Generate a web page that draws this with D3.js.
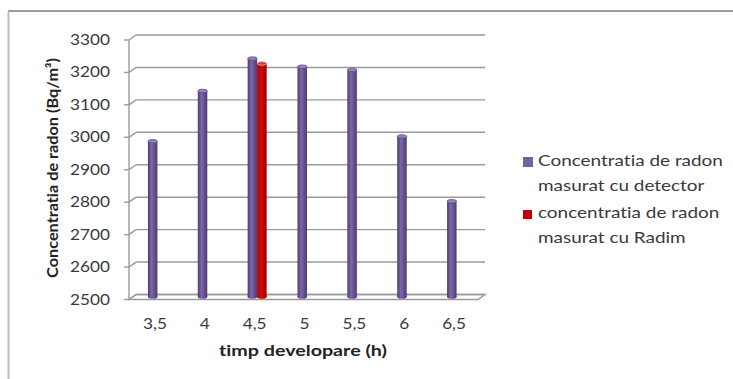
<!DOCTYPE html>
<html><head><meta charset="utf-8">
<script src="https://cdn.jsdelivr.net/npm/d3@7"></script>
<style>body{margin:0;background:#fff} svg{display:block} text{font-variant-ligatures:none}</style>
</head><body>
<script>
// Radon concentration vs. development time
const categories = ["3,5", "4", "4,5", "5", "5,5", "6", "6,5"];
const detectorValues = [2980, 3135, 3235, 3210, 3200, 2995, 2795];
const radimValues = [null, null, 3220, null, null, null, null];
const yTicks = [2500, 2600, 2700, 2800, 2900, 3000, 3100, 3200, 3300];
const legendLines = [
  ["Concentratia de radon", "masurat cu detector"],
  ["concentratia de radon", "masurat cu Radim"]
];
const xTitle = "timp developare (h)";
const yTitle = "Concentratia de radon (Bq/m³)";

const W = 733, H = 379;
const svg = d3.select("body").append("svg").attr("width", W).attr("height", H);
const FONT = "Lato, 'Open Sans', sans-serif";

// 3D depth offset of the back wall relative to the front edge
const DX = 7, DY = -5;
const yFront = d3.scaleLinear().domain([2500, 3300]).range([299.5, 40]);
const yBack = v => yFront(v) + DY;
const yMid = v => yFront(v) + DY / 2;
const x = d3.scaleBand().domain(categories).range([129, 478]).padding(0);
const barW = 9.5;

const defs = svg.append("defs");
function cylGrad(id, dark, light) {
  const g = defs.append("linearGradient").attr("id", id).attr("x1", 0).attr("x2", 1).attr("y1", 0).attr("y2", 0);
  g.append("stop").attr("offset", "0%").attr("stop-color", dark);
  g.append("stop").attr("offset", "38%").attr("stop-color", light);
  g.append("stop").attr("offset", "100%").attr("stop-color", dark);
}
cylGrad("gPurple", "#4d3b72", "#7c67a8");
cylGrad("gRed", "#9c0000", "#d60a0a");

// outer frame
svg.append("line").attr("x1", 8).attr("x2", W).attr("y1", 11).attr("y2", 11)
  .attr("stroke", "#7a7a7a").attr("stroke-width", 1.5);
svg.append("line").attr("x1", 8.5).attr("x2", 8.5).attr("y1", 11).attr("y2", H)
  .attr("stroke", "#bdbdbd").attr("stroke-width", 2);

const grid = svg.append("g").attr("fill", "none").attr("stroke", "#9a9a9a").attr("stroke-width", 1.4);
const x0 = x.range()[0], x1 = x.range()[1];

// floor
grid.append("path")
  .attr("d", `M${x0},${yFront(2500)}L${x1},${yFront(2500)}L${x1 + DX},${yBack(2500)}L${x0 + DX},${yBack(2500)}Z`)
  .attr("fill", "#fff");

// back-wall gridlines, side diagonals and front ticks
yTicks.forEach(v => {
  grid.append("line").attr("x1", x0 + DX).attr("x2", x1 + DX).attr("y1", yBack(v)).attr("y2", yBack(v));
  grid.append("line").attr("x1", x0).attr("x2", x0 + DX).attr("y1", yFront(v)).attr("y2", yBack(v));
  grid.append("line").attr("x1", x0 - 5).attr("x2", x0).attr("y1", yFront(v)).attr("y2", yFront(v));
});
grid.append("line").attr("x1", x0).attr("x2", x0).attr("y1", yFront(3300)).attr("y2", yFront(2500));

// cylinders
function cylinder(cx, v, grad, topFill, edge) {
  const ry = 1.8, yt = yMid(v), yb = yMid(2500);
  const g = svg.append("g");
  g.append("ellipse").attr("cx", cx).attr("cy", yb).attr("rx", barW / 2).attr("ry", ry).attr("fill", `url(#${grad})`);
  g.append("rect").attr("x", cx - barW / 2).attr("y", yt).attr("width", barW).attr("height", yb - yt)
    .attr("fill", `url(#${grad})`);
  g.append("ellipse").attr("cx", cx).attr("cy", yt).attr("rx", barW / 2).attr("ry", ry)
    .attr("fill", topFill).attr("stroke", edge).attr("stroke-width", 0.8);
}
categories.forEach((c, i) => {
  const center = x(c) + x.bandwidth() / 2 + DX / 2;
  if (detectorValues[i] != null) cylinder(center - barW / 2, detectorValues[i], "gPurple", "#9582bf", "#5b4985");
  if (radimValues[i] != null) cylinder(center + barW / 2, radimValues[i], "gRed", "#e03a3a", "#f2b0b0");
});

// horizontally stretched text helper
function label(txt, px, py, opts) {
  const t = svg.append("text").text(txt)
    .attr("font-family", FONT).attr("font-size", opts.size)
    .attr("font-weight", opts.bold ? 700 : 400)
    .attr("fill", opts.color || "#3a3a3a")
    .attr("text-anchor", opts.anchor || "start");
  let s = opts.scale || 1;
  if (opts.target) s = opts.target / t.node().getComputedTextLength();
  t.attr("transform", `translate(${px},${py}) rotate(${opts.rotate || 0}) scale(${s},1)`);
  return s;
}
function measure(txt, size, bold) {
  const t = svg.append("text").text(txt).attr("font-family", FONT).attr("font-size", size).attr("font-weight", bold ? 700 : 400);
  const w = t.node().getComputedTextLength();
  t.remove();
  return w;
}

const tickScale = 40 / measure("3300", 14.5);
yTicks.forEach(v => label(d3.format("d")(v), 110, yFront(v) + 5, {size: 14.5, anchor: "end", scale: tickScale}));
categories.forEach(c => label(c, x(c) + x.bandwidth() / 2 + 1, 329, {size: 14.5, anchor: "middle", scale: tickScale}));

label(xTitle, 303, 356, {size: 16, bold: true, anchor: "middle", target: 168, color: "#222"});
label(yTitle, 57.5, 168, {size: 15, bold: true, anchor: "middle", target: 220, rotate: -90, color: "#222"});

// legend
const legScale = 185 / measure(legendLines[0][0], 15.5);
const swatch = [{y: 157, s: 10, c: "#7560a3"}, {y: 210, s: 9, c: "#c00000"}];
const baselines = [[166, 191], [218, 243]];
legendLines.forEach((lines, i) => {
  svg.append("rect").attr("x", 523).attr("y", swatch[i].y).attr("width", swatch[i].s).attr("height", swatch[i].s)
    .attr("fill", swatch[i].c);
  lines.forEach((ln, j) => label(ln, 538, baselines[i][j], {size: 15.5, scale: legScale}));
});
</script>
</body></html>
